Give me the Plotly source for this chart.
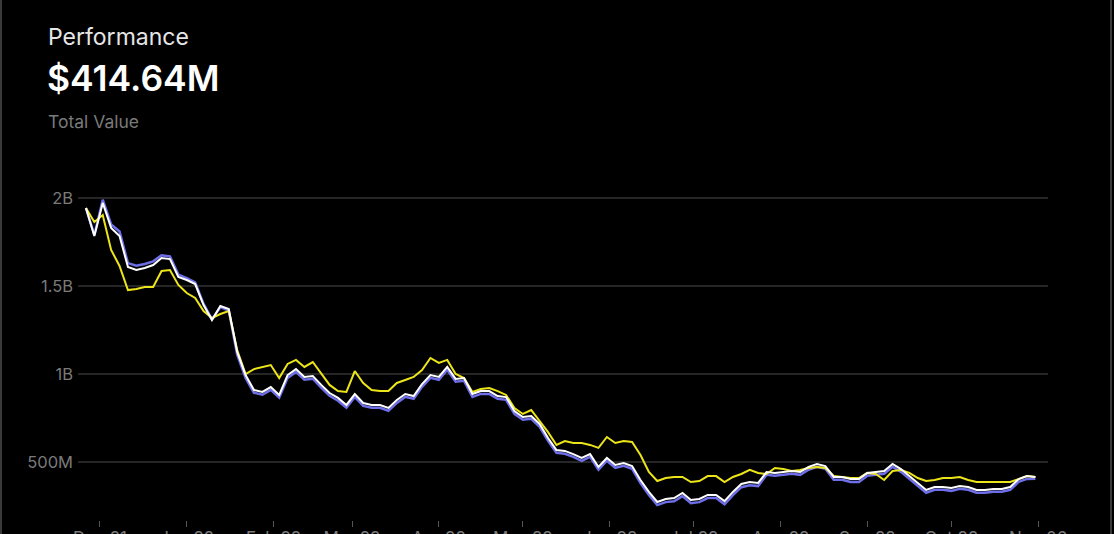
import pandas as pd
import plotly.graph_objects as go

# ---- data (values in millions of USD), sampled every 3 days ----
dates = pd.date_range("2021-11-26", periods=114, freq="3D")

total_value = [1943, 1784, 1972, 1830, 1784, 1608, 1591, 1602, 1619, 1659,
               1653, 1551, 1534, 1511, 1392, 1307, 1386, 1369, 1125, 994,
               909, 898, 926, 881, 994, 1028, 983, 989, 938, 892,
               864, 824, 886, 835, 824, 824, 807, 852, 886, 875,
               943, 994, 983, 1040, 972, 977, 886, 903, 903, 875,
               869, 790, 756, 761, 716, 636, 568, 563, 545, 523,
               545, 472, 523, 483, 494, 477, 398, 330, 273, 290,
               295, 324, 284, 290, 313, 313, 278, 330, 375, 386,
               381, 443, 438, 443, 449, 443, 472, 489, 477, 415,
               415, 403, 403, 438, 443, 449, 489, 460, 420, 381,
               341, 358, 358, 352, 364, 358, 341, 341, 347, 347,
               358, 403, 420, 414.64]

net_value = [1943, 1790, 1990, 1850, 1810, 1630, 1615, 1625, 1640, 1675,
             1668, 1565, 1545, 1520, 1398, 1310, 1380, 1360, 1110, 978,
             893, 882, 910, 866, 978, 1012, 968, 973, 922, 876,
             848, 808, 870, 819, 808, 808, 791, 836, 870, 859,
             927, 978, 967, 1024, 956, 961, 870, 887, 887, 859,
             853, 774, 740, 745, 700, 620, 552, 547, 529, 507,
             529, 456, 507, 467, 478, 461, 380, 312, 255, 272,
             277, 306, 266, 272, 295, 295, 260, 312, 357, 368,
             363, 427, 422, 427, 433, 427, 456, 473, 461, 399,
             399, 387, 387, 422, 427, 433, 473, 444, 404, 365,
             325, 342, 342, 336, 348, 342, 325, 325, 331, 331,
             342, 387, 404, 405]

benchmark = [1943, 1864, 1903, 1705, 1614, 1477, 1483, 1494, 1494, 1585,
             1591, 1506, 1460, 1432, 1358, 1318, 1341, 1358, 1136, 1000,
             1028, 1040, 1051, 977, 1057, 1080, 1040, 1068, 1006, 938,
             903, 898, 1017, 949, 909, 903, 903, 949, 966, 983,
             1023, 1091, 1063, 1080, 1000, 977, 898, 915, 920, 903,
             881, 807, 773, 795, 733, 670, 597, 619, 608, 608,
             597, 580, 642, 608, 619, 614, 540, 443, 392, 409,
             415, 415, 386, 392, 420, 420, 386, 415, 432, 455,
             438, 432, 466, 460, 449, 455, 466, 472, 466, 420,
             415, 409, 409, 438, 432, 398, 449, 455, 438, 409,
             392, 398, 409, 409, 415, 398, 386, 386, 386, 386,
             386, 403, 420, 415]

y_tick_vals = [500, 1000, 1500, 2000]
y_tick_text = ["500M", "1B", "1.5B", "2B"]
x_tick_vals = ["2021-12-01", "2022-01-01", "2022-02-01", "2022-03-01",
               "2022-04-01", "2022-05-01", "2022-06-01", "2022-07-01",
               "2022-08-01", "2022-09-01", "2022-10-01", "2022-11-01"]
x_tick_text = ["Dec 21", "Jan 22", "Feb 22", "Mar 22", "Apr 22", "May 22",
               "Jun 22", "Jul 22", "Aug 22", "Sep 22", "Oct 22", "Nov 06"]

FONT = "Inter, Roboto, sans-serif"

fig = go.Figure()
fig.add_trace(go.Scatter(x=dates, y=net_value, mode="lines",
                         line=dict(color="#6e6ee8", width=2.5), hoverinfo="skip"))
fig.add_trace(go.Scatter(x=dates, y=benchmark, mode="lines",
                         line=dict(color="#ece51a", width=2), hoverinfo="skip"))
fig.add_trace(go.Scatter(x=dates, y=total_value, mode="lines",
                         line=dict(color="#ffffff", width=2), hoverinfo="skip"))

fig.update_layout(
    width=1114, height=534,
    paper_bgcolor="#000000", plot_bgcolor="#000000",
    margin=dict(l=78, r=66, t=190, b=14, autoexpand=False),
    showlegend=False,
    font=dict(family=FONT, color="#7a7a7a"),
    xaxis=dict(
        range=["2021-11-23 04:00", "2022-11-04 12:00"],
        showgrid=False, zeroline=False, showline=False,
        tickvals=x_tick_vals, ticktext=x_tick_text,
        ticks="outside", ticklen=6, tickwidth=1, tickcolor="#555555",
        tickfont=dict(size=17, color="#7a7a7a"),
        ticklabelstandoff=-3,
    ),
    yaxis=dict(
        range=[170.45, 2045.45],
        showgrid=True, gridcolor="#262626", gridwidth=2,
        zeroline=False, showline=False,
        tickvals=y_tick_vals, ticktext=y_tick_text,
        tickfont=dict(size=16.5, color="#7a7a7a"),
        ticks="", ticklabelstandoff=4,
    ),
    annotations=[
        dict(text="Performance", xref="paper", yref="paper",
             x=(46 - 78) / 970, y=(520 - 37) / 330, xanchor="left", yanchor="middle",
             showarrow=False, font=dict(family=FONT, size=23, color="#e6e6e6")),
        dict(text="$414.64M", xref="paper", yref="paper",
             x=(45 - 78) / 970, y=(520 - 79) / 330, xanchor="left", yanchor="middle",
             showarrow=False, font=dict(family=FONT, size=35.5, color="#ffffff", weight=600)),
        dict(text="Total Value", xref="paper", yref="paper",
             x=(46 - 78) / 970, y=(520 - 121) / 330, xanchor="left", yanchor="middle",
             showarrow=False, font=dict(family=FONT, size=17.5, color="#7a7a7a")),
    ],
    shapes=[
        dict(type="line", xref="paper", yref="paper",
             x0=(1 - 78) / 970, x1=(1 - 78) / 970, y0=-0.1, y1=1.7,
             line=dict(color="#3a3a3a", width=2)),
        dict(type="line", xref="paper", yref="paper",
             x0=(1111 - 78) / 970, x1=(1111 - 78) / 970, y0=-0.1, y1=1.7,
             line=dict(color="#3a3a3a", width=2)),
    ],
)

fig.write_html(
    "out.html",
    config={"displayModeBar": False},
    post_script="document.body.style.margin='0';document.body.style.background='#000';"
                "document.documentElement.style.background='#000';",
)
